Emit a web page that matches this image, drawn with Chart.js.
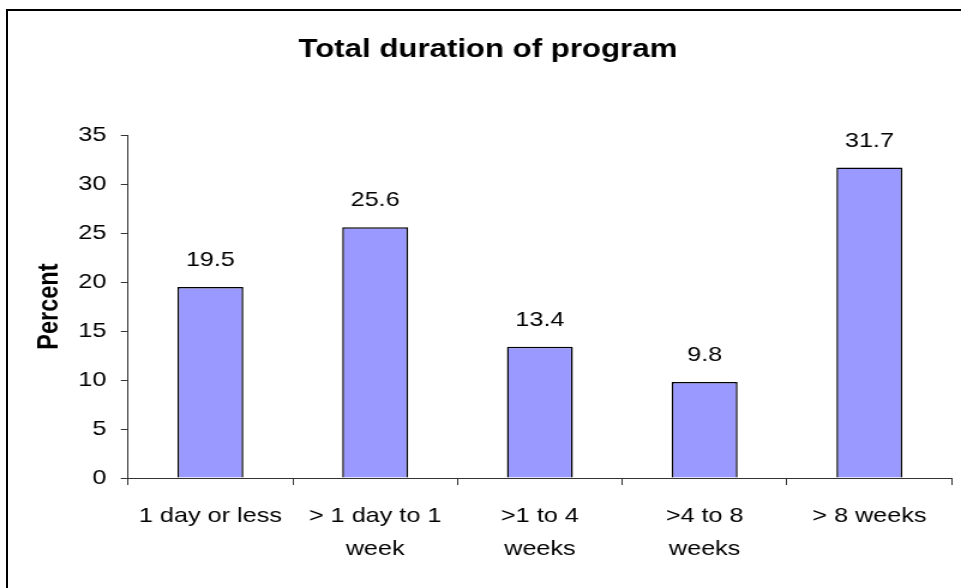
<!DOCTYPE html>
<html>
<head>
<meta charset="utf-8">
<title>Total duration of program</title>
<script src="https://cdn.jsdelivr.net/npm/chart.js@4.4.1/dist/chart.umd.min.js"></script>
<style>
    html, body { margin: 0; padding: 0; background: #fff; overflow: hidden; }
    #frame {
        position: absolute;
        left: 6px;
        top: 9px;
        width: 1000px;
        height: 1000px;
        border: 2px solid #000;
    }
    #chart {
        position: absolute;
        left: 0;
        top: 0;
    }
</style>
</head>
<body>
<div id="frame"></div>
<!-- drawn at 801px wide and shown at 961px: the reference is stretched sideways -->
<canvas id="chart" width="801" height="588" style="width:961px;height:588px"></canvas>
<script>
// Chart data
const categories = ['1 day or less', ['> 1 day to 1', 'week'], ['>1 to 4', 'weeks'], ['>4 to 8', 'weeks'], '> 8 weeks'];
const percentValues = [19.5, 25.6, 13.4, 9.8, 31.7];
const yTicks = [0, 5, 10, 15, 20, 25, 30, 35];

const FONT = "'Liberation Sans', Arial, sans-serif";

// Value labels above each bar
const barValueLabels = {
    id: 'barValueLabels',
    afterDatasetsDraw(chart) {
        const ctx = chart.ctx;
        const meta = chart.getDatasetMeta(0);
        ctx.save();
        ctx.font = '21px ' + FONT;
        ctx.fillStyle = '#000';
        ctx.textAlign = 'center';
        ctx.textBaseline = 'alphabetic';
        meta.data.forEach(function (bar, i) {
            ctx.fillText(percentValues[i].toFixed(1), bar.x, bar.y - 21);
        });
        ctx.restore();
    }
};

const chart = new Chart(document.getElementById('chart'), {
    type: 'bar',
    data: {
        labels: categories,
        datasets: [{
            data: percentValues,
            backgroundColor: '#9999FF',
            borderColor: '#000',
            borderWidth: 1.5,
            barPercentage: 0.4,
            categoryPercentage: 1.0
        }]
    },
    options: {
        responsive: false,
        animation: false,
        layout: {
            padding: { left: 20, right: 7.7, top: 0, bottom: 0 }
        },
        plugins: {
            legend: { display: false },
            tooltip: { enabled: false },
            title: {
                display: true,
                text: 'Total duration of program',
                color: '#000',
                font: { family: FONT, size: 26, weight: 'bold' },
                padding: { top: 34.5, bottom: 69.5 }
            }
        },
        scales: {
            x: {
                afterFit: function (scale) { scale.height = 110; },
                grid: {
                    offset: true,
                    drawOnChartArea: false,
                    tickLength: 7,
                    color: '#333'
                },
                border: { color: '#333', width: 1 },
                ticks: {
                    color: '#000',
                    font: { family: FONT, size: 21, lineHeight: 1.57 },
                    padding: 15,
                    maxRotation: 0,
                    autoSkip: false
                }
            },
            y: {
                min: 0,
                max: 35,
                afterFit: function (scale) { scale.width = 86.7; },
                afterBuildTicks: function (scale) {
                    scale.ticks = yTicks.map(function (v) { return { value: v }; });
                },
                grid: {
                    drawOnChartArea: false,
                    tickLength: 6,
                    color: '#333'
                },
                border: { color: '#333', width: 1 },
                ticks: {
                    color: '#000',
                    font: { family: FONT, size: 21 },
                    padding: 12
                },
                title: {
                    display: true,
                    text: 'Percent',
                    color: '#000',
                    font: { family: FONT, size: 23.5, weight: 'bold' },
                    padding: { top: 7, bottom: 0 }
                }
            }
        }
    },
    plugins: [barValueLabels]
});
</script>
</body>
</html>
